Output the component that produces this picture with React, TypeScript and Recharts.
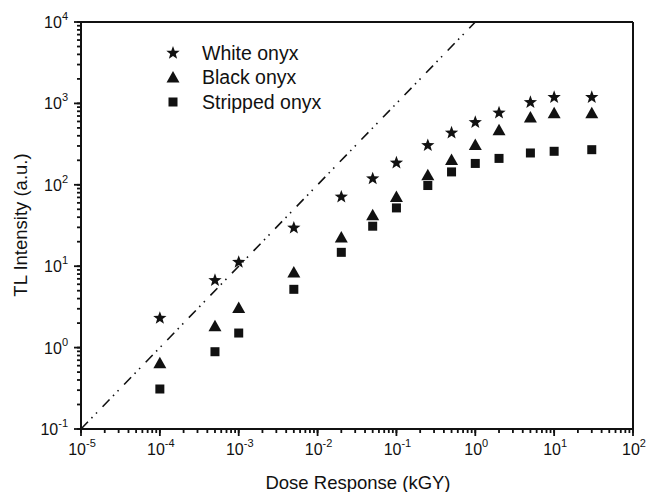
import React from 'react';
import { ScatterChart, Scatter, XAxis, YAxis } from 'recharts';

/* ── Data ────────────────────────────────────────────────────────────── */
const doses    = [1e-4, 5e-4, 1e-3, 5e-3, 2e-2, 5e-2, 0.1, 0.25, 0.5, 1, 2, 5, 10, 30];
const white    = [2.3, 6.7, 11.2, 29.5, 71, 119, 186, 305, 435, 586, 765, 1030, 1190, 1190];
const black    = [0.65, 1.86, 3.1, 8.5, 22.9, 43, 72, 133, 204, 312, 475, 680, 765, 765];
const stripped = [0.31, 0.89, 1.51, 5.2, 14.8, 31, 52, 98, 144, 183, 211, 246, 258, 270];

// linear-response guide line (dash-dot-dot)
const guideX = [1e-5, 1];
const guideY = [0.1, 1e4];

const xDecades = [-5, -4, -3, -2, -1, 0, 1, 2];
const yDecades = [-1, 0, 1, 2, 3, 4];
const minorSteps = [1, 2, 3, 4, 5, 6, 7, 8, 9];

const logTicks = (decades: number[]) => {
  const out: number[] = [];
  decades.forEach((d, i) => {
    if (i === decades.length - 1) { out.push(Math.pow(10, d)); return; }
    minorSteps.forEach((m) => out.push(m * Math.pow(10, d)));
  });
  return out;
};
const xTicks = logTicks(xDecades);
const yTicks = logTicks(yDecades);

const toPoints = (xs: number[], ys: number[]) => xs.map((x, i) => ({ x, y: ys[i] }));

const INK = '#111';
const FONT = '"Liberation Sans", Arial, Helvetica, sans-serif';
const MINOR = 4;   // built-in tick line length
const MAJOR = 7;   // decade ticks
const TW = 1.8;
const tickLineStyle = { stroke: INK, strokeWidth: TW };

const isDecade = (v: number) => {
  const l = Math.log10(v);
  return Math.abs(l - Math.round(l)) < 1e-6;
};
const expOf = (v: number) => String(Math.round(Math.log10(v)));

/* ── Tick renderers (minor ticks come from tickLine, decades get extended) ── */
// eslint-disable-next-line @typescript-eslint/no-explicit-any
function BottomTick(props: any) {
  const { x, y, payload } = props;
  if (!isDecade(payload.value)) return <g />;
  return (
    <g>
      <line x1={x} y1={y - MINOR} x2={x} y2={y - MINOR + MAJOR} stroke={INK} strokeWidth={TW} />
      <text x={x + 1} y={y + 22} textAnchor="middle" fontSize={16} fill={INK} fontFamily={FONT}>
        10<tspan dy={-8} fontSize={11}>{expOf(payload.value)}</tspan>
      </text>
    </g>
  );
}

// eslint-disable-next-line @typescript-eslint/no-explicit-any
function TopTick(props: any) {
  const { x, y, payload } = props;
  if (!isDecade(payload.value)) return <g />;
  return <line x1={x} y1={y - MINOR} x2={x} y2={y - MINOR + MAJOR} stroke={INK} strokeWidth={TW} />;
}

// eslint-disable-next-line @typescript-eslint/no-explicit-any
function LeftTick(props: any) {
  const { x, y, payload } = props;
  if (!isDecade(payload.value)) return <g />;
  return (
    <g>
      <line x1={x + MINOR} y1={y} x2={x + MINOR - MAJOR} y2={y} stroke={INK} strokeWidth={TW} />
      <text x={x - 9} y={y + 6} textAnchor="end" fontSize={16} fill={INK} fontFamily={FONT}>
        10<tspan dy={-8} fontSize={11}>{expOf(payload.value)}</tspan>
      </text>
    </g>
  );
}

// eslint-disable-next-line @typescript-eslint/no-explicit-any
function RightTick(props: any) {
  const { x, y, payload } = props;
  if (!isDecade(payload.value)) return <g />;
  return <line x1={x + MINOR} y1={y} x2={x + MINOR - MAJOR} y2={y} stroke={INK} strokeWidth={TW} />;
}

/* ── Marker shapes ───────────────────────────────────────────────────── */
function starPath(cx: number, cy: number, ro: number, ri: number) {
  let d = '';
  for (let i = 0; i < 10; i++) {
    const r = i % 2 === 0 ? ro : ri;
    const a = -Math.PI / 2 + (i * Math.PI) / 5;
    d += `${i === 0 ? 'M' : 'L'}${cx + r * Math.cos(a)},${cy + r * Math.sin(a)}`;
  }
  return d + 'Z';
}
// eslint-disable-next-line @typescript-eslint/no-explicit-any
const StarShape = (p: any) => <path d={starPath(p.cx, p.cy, 7, 2.9)} fill={INK} />;
// eslint-disable-next-line @typescript-eslint/no-explicit-any
const TriShape = (p: any) => (
  <path d={`M${p.cx},${p.cy - 6} L${p.cx + 6.5},${p.cy + 5.5} L${p.cx - 6.5},${p.cy + 5.5} Z`} fill={INK} />
);
// eslint-disable-next-line @typescript-eslint/no-explicit-any
const SquareShape = (p: any) => <rect x={p.cx - 4.5} y={p.cy - 4.5} width={9} height={9} fill={INK} />;
const NoShape = () => <g />;

/* ── Component ───────────────────────────────────────────────────────── */
export default function App() {
  const legendRows = [
    { label: 'White onyx', y: 53, icon: <StarShape cx={173} cy={53} /> },
    { label: 'Black onyx', y: 77, icon: <TriShape cx={173} cy={77} /> },
    { label: 'Stripped onyx', y: 102, icon: <SquareShape cx={173} cy={102} /> },
  ];

  return (
    <div style={{ position: 'absolute', left: 0, top: 0, width: 646, height: 492 }}>
      <ScatterChart width={646} height={492} margin={{ top: 12, right: 3, bottom: 4, left: 21 }}>
        <XAxis xAxisId={0} dataKey="x" type="number" scale="log" domain={[1e-5, 100]} ticks={xTicks} interval={0}
          height={59} tickSize={MINOR} tickMargin={0} tickLine={tickLineStyle} tick={<BottomTick />}
          axisLine={{ stroke: INK, strokeWidth: 2 }} />
        <XAxis xAxisId="top" orientation="top" type="number" scale="log" domain={[1e-5, 100]} ticks={xTicks} interval={0}
          height={10} tickSize={-MINOR} tickMargin={0} tickLine={tickLineStyle} tick={<TopTick />}
          axisLine={{ stroke: INK, strokeWidth: 2 }} />
        <YAxis yAxisId={0} dataKey="y" type="number" scale="log" domain={[0.1, 10000]} ticks={yTicks} interval={0}
          width={60} tickSize={MINOR} tickMargin={0} tickLine={tickLineStyle} tick={<LeftTick />}
          axisLine={{ stroke: INK, strokeWidth: 2 }} />
        <YAxis yAxisId="right" orientation="right" type="number" scale="log" domain={[0.1, 10000]} ticks={yTicks} interval={0}
          width={10} tickSize={-MINOR} tickMargin={0} tickLine={tickLineStyle} tick={<RightTick />}
          axisLine={{ stroke: INK, strokeWidth: 2 }} />

        <Scatter data={toPoints(guideX, guideY)} shape={<NoShape />}
          line={{ stroke: INK, strokeWidth: 1.6, strokeDasharray: '10 5 1.5 5 1.5 8' }} isAnimationActive={false} />
        <Scatter data={toPoints(doses, white)} shape={<StarShape />} isAnimationActive={false} />
        <Scatter data={toPoints(doses, black)} shape={<TriShape />} isAnimationActive={false} />
        <Scatter data={toPoints(doses, stripped)} shape={<SquareShape />} isAnimationActive={false} />

        {/* axis titles */}
        <text x={358} y={489} textAnchor="middle" fontSize={18.5} fill={INK} fontFamily={FONT}>Dose Response (kGY)</text>
        <text x={27} y={225} textAnchor="middle" fontSize={18.5} fill={INK} fontFamily={FONT} transform="rotate(-90 27 225)">
          TL Intensity (a.u.)
        </text>

        {/* legend */}
        {legendRows.map((r) => (
          <g key={r.label}>
            {r.icon}
            <text x={202} y={r.y + 6.5} fontSize={19.5} fill={INK} fontFamily={FONT}>{r.label}</text>
          </g>
        ))}
      </ScatterChart>
    </div>
  );
}
